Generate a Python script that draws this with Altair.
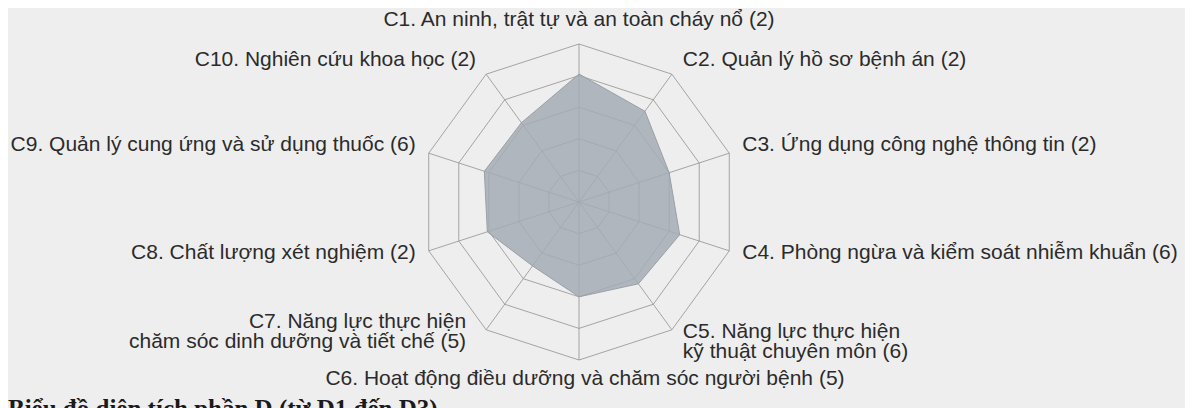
import altair as alt
import pandas as pd

# ---- data ----
codes = ["C1", "C2", "C3", "C4", "C5", "C6", "C7", "C8", "C9", "C10"]
labels = [
    "C1. An ninh, trật tự và an toàn cháy nổ (2)",
    "C2. Quản lý hồ sơ bệnh án (2)",
    "C3. Ứng dụng công nghệ thông tin (2)",
    "C4. Phòng ngừa và kiểm soát nhiễm khuẩn (6)",
    "C5. Năng lực thực hiện\nkỹ thuật chuyên môn (6)",
    "C6. Hoạt động điều dưỡng và chăm sóc người bệnh (5)",
    "C7. Năng lực thực hiện\nchăm sóc dinh dưỡng và tiết chế (5)",
    "C8. Chất lượng xét nghiệm (2)",
    "C9. Quản lý cung ứng và sử dụng thuốc (6)",
    "C10. Nghiên cứu khoa học (2)",
]
scores = [81, 71, 60, 67, 64, 60, 50, 61, 63, 62]   # percent of maximum
levels = [20, 40, 60, 80, 100]
max_score = 100
caption = "Biểu đồ diện tích phần D (từ D1 đến D3)"

n = len(codes)
series = pd.DataFrame({"idx": list(range(n)) + [n],
                       "value": scores + [scores[0]]})
rings = pd.DataFrame([{"idx": i, "value": lv, "level": lv}
                      for lv in levels for i in range(n + 1)])
spokes = pd.DataFrame({"idx": list(range(n)), "value": [max_score] * n})
lab = pd.DataFrame({"idx": list(range(n)), "label": labels,
                    "value": [max_score] * n})

# ---- layout (style, not data) ----
W, H = 1177, 400
R_PX = 158.0
CX, CY = 571.0, 194.0
xdom = [-CX / R_PX, (W - CX) / R_PX]
ydom = [-(H - CY) / R_PX, CY / R_PX]
xs = alt.Scale(domain=xdom, nice=False, zero=False)
ys = alt.Scale(domain=ydom, nice=False, zero=False)

def polar(chart):
    return chart.transform_calculate(
        ang=f"datum.idx * 2 * PI / {n}",
        r=f"datum.value / {max_score}",
    ).transform_calculate(
        px="datum.r * sin(datum.ang)",
        py="datum.r * cos(datum.ang)",
        zx="0",
    )

grid_color = "#969696"

fill = polar(alt.Chart(series)).mark_line(
    fill="#a4acb4", fillOpacity=0.85, stroke="#99a0a7", strokeWidth=1
).encode(
    x=alt.X("px:Q", scale=xs, axis=None),
    y=alt.Y("py:Q", scale=ys, axis=None),
    order="idx:Q",
)

ring_lines = polar(alt.Chart(rings)).mark_line(
    stroke=grid_color, strokeWidth=1, opacity=0.85
).encode(
    x=alt.X("px:Q", scale=xs, axis=None),
    y=alt.Y("py:Q", scale=ys, axis=None),
    detail="level:N",
    order="idx:Q",
)

spoke_lines = polar(alt.Chart(spokes)).mark_rule(
    stroke=grid_color, strokeWidth=1, opacity=0.85
).encode(
    x=alt.X("zx:Q", scale=xs, axis=None),
    y=alt.Y("zx:Q", scale=ys, axis=None),
    x2="px:Q",
    y2="py:Q",
)

# label placement relative to outer vertex: (align, dx, dy of first line)
place = [
    ("center", 0, -24),
    ("left", 11, -14),
    ("left", 13, -8),
    ("left", 13, 2),
    ("left", 11, 2),
    ("center", 6, 19),
    ("right", -20, -8),
    ("right", -13, 2),
    ("right", -13, -8),
    ("right", -10, -14),
]

label_layers = []
for i, (al, dx, dy) in enumerate(place):
    label_layers.append(
        polar(alt.Chart(lab)).transform_filter(f"datum.idx == {i}").mark_text(
            align=al, baseline="middle", dx=dx, dy=dy, fontSize=21,
            font="Liberation Sans", color="#2b2b2b", lineBreak="\n",
            lineHeight=20,
        ).encode(
            x=alt.X("px:Q", scale=xs, axis=None),
            y=alt.Y("py:Q", scale=ys, axis=None),
            text="label:N",
        )
    )

cap = alt.Chart(pd.DataFrame({"t": [caption]})).mark_text(
    align="left", baseline="alphabetic", fontSize=25, fontWeight="bold",
    font="Liberation Serif", color="#1a1a1a",
).encode(x=alt.value(0), y=alt.value(409), text="t:N")

chart = alt.layer(ring_lines, spoke_lines, fill, *label_layers, cap).properties(
    width=W, height=H, background="#eeeeee", padding=0,
).configure_view(stroke=None)

chart.save("out.html", embed_options={"renderer": "svg", "actions": False})
